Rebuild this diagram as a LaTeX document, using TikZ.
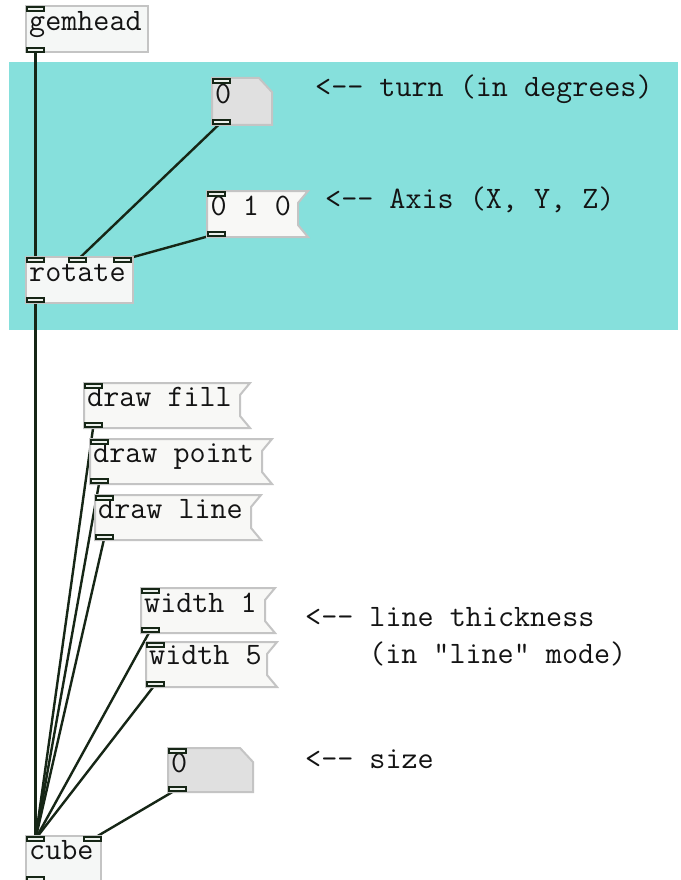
\documentclass[tikz,border=0pt]{standalone}
\definecolor{canvasc}{RGB}{134,224,220}
\definecolor{wirec}{RGB}{22,38,22}
\definecolor{portfill}{RGB}{236,240,236}
\definecolor{objfill}{RGB}{245,247,246}
\definecolor{msgfill}{RGB}{248,248,246}
\definecolor{numfill}{RGB}{224,224,224}
\definecolor{edgec}{RGB}{196,196,196}
\definecolor{textc}{RGB}{20,20,20}
\pgfdeclarelayer{canvas}
\pgfdeclarelayer{wires}
\pgfsetlayers{canvas,wires,main}
\tikzset{
  port/.style={rectangle, draw=wirec, fill=portfill, line width=2pt,
    minimum width=17pt, minimum height=4.5pt, inner sep=0pt},
  wire/.style={draw=wirec, line width=2.4pt},
  boxedge/.style={draw=edgec, line width=2pt},
  pdtext/.style={font={\ttfamily\fontsize{31.2}{35}\selectfont}, inner sep=0pt,
    text=textc, anchor=base west},
}
% port: name, left x, top y
\newcommand\pdport[3]{\node[port] (#1) at (#2+9.5,#3+3) {};}
% object box: left, top, right, bottom
\newcommand\pdobj[4]{\path[boxedge, fill=objfill] (#1,#2) rectangle (#3,#4);}
% message box with the indented flag on its right side
\newcommand\pdmsg[4]{\path[boxedge, fill=msgfill] (#1,#2) -- (#3,#2) -- (#3-10,#2+12)
  -- (#3-10,#4-12) -- (#3,#4) -- (#1,#4) -- cycle;}
% number box with a cut top-right corner
\newcommand\pdnum[4]{\path[boxedge, fill=numfill] (#1,#2) -- (#3-13,#2) -- (#3,#2+14)
  -- (#3,#4) -- (#1,#4) -- cycle;}
\begin{document}
\begin{tikzpicture}[x=1pt, y=-1pt]
\useasboundingbox (0,0) rectangle (680,880);
\clip (0,0) rectangle (680,880);
\begin{pgfonlayer}{canvas}
  \fill[white] (0,0) rectangle (680,880);
  \fill[canvasc] (9,62) rectangle (678,330);
\end{pgfonlayer}

% gemhead
\pdobj{26}{6}{148}{52}
\node[pdtext] (gemhead) at (29,31) {gemhead};
\pdport{gemIn}{26}{6}
\pdport{gemOut}{26}{47}

% turn number box
\pdnum{212}{78}{272}{125}
\node[pdtext] (turn) at (215,103) {0};
\pdport{turnIn}{212}{78}
\pdport{turnOut}{212}{119}
\node[pdtext] (turnNote) at (315,97) {<-{}- turn (in degrees)};

% axis message
\pdmsg{207}{191}{308}{237}
\node[pdtext] (axis) at (210.5,215) {0 1 0};
\pdport{axisIn}{207}{191}
\pdport{axisOut}{207}{231}
\node[pdtext] (axisNote) at (325,208) {<-{}- Axis (X, Y, Z)};

% rotate
\pdobj{26}{257}{133}{303}
\node[pdtext] (rotate) at (29,281) {rotate};
\pdport{rotIn1}{26}{257}
\pdport{rotIn2}{68}{257}
\pdport{rotIn3}{113}{257}
\pdport{rotOut}{26}{297}

% draw mode messages
\pdmsg{84}{383}{250}{428}
\node[pdtext] (fill) at (87,406) {draw fill};
\pdport{fillIn}{84}{383}
\pdport{fillOut}{84}{422}

\pdmsg{90}{439}{272}{484}
\node[pdtext] (point) at (93,462) {draw point};
\pdport{pointIn}{90}{439}
\pdport{pointOut}{90}{478}

\pdmsg{95}{495}{261}{540}
\node[pdtext] (line) at (98,518) {draw line};
\pdport{lineIn}{95}{495}
\pdport{lineOut}{95}{534}

% width messages
\pdmsg{141}{588}{275}{633}
\node[pdtext] (wone) at (144,612) {width 1};
\pdport{w1In}{141}{588}
\pdport{w1Out}{141}{627}

\pdmsg{146}{642}{277}{687}
\node[pdtext] (wfive) at (149,664) {width 5};
\pdport{w5In}{146}{642}
\pdport{w5Out}{146}{681}

\node[pdtext] (thickNote) at (305,626) {<-{}- line thickness};
\node[pdtext] (modeNote) at (369,663) {(in "line" mode)};

% size number box
\pdnum{168}{748}{253}{792}
\node[pdtext] (size) at (171,772) {0};
\pdport{sizeIn}{168}{748}
\pdport{sizeOut}{168}{786}
\node[pdtext] (sizeNote) at (305,768) {<-{}- size};

% cube
\pdobj{26}{836}{101}{884}
\node[pdtext] (cube) at (29,859) {cube};
\pdport{cubeIn1}{26}{836}
\pdport{cubeIn2}{83}{836}
\pdport{cubeOut}{26}{876}

% patch cords
\begin{pgfonlayer}{wires}
  \draw[wire] (gemOut.center) -- (rotIn1.center);
  \draw[wire] (turnOut.center) -- (rotIn2.center);
  \draw[wire] (axisOut.center) -- (rotIn3.center);
  \draw[wire] (rotOut.center) -- (cubeIn1.center);
  \draw[wire] (fillOut.center) -- (cubeIn1.center);
  \draw[wire] (pointOut.center) -- (cubeIn1.center);
  \draw[wire] (lineOut.center) -- (cubeIn1.center);
  \draw[wire] (w1Out.center) -- (cubeIn1.center);
  \draw[wire] (w5Out.center) -- (cubeIn1.center);
  \draw[wire] (sizeOut.center) -- (cubeIn2.center);
\end{pgfonlayer}
\end{tikzpicture}
\end{document}
